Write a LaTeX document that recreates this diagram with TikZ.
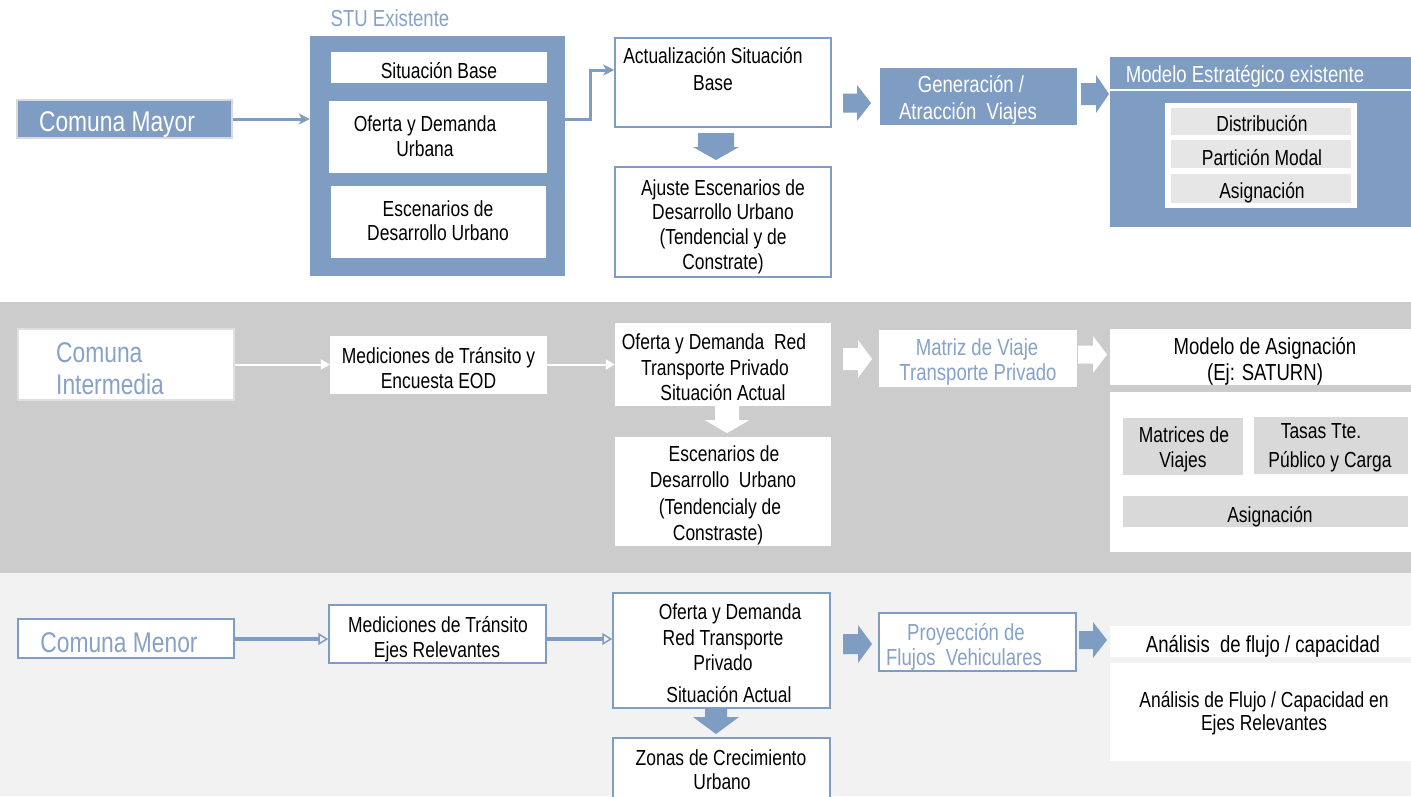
\documentclass[tikz,border=0pt]{standalone}
\usepackage{fontspec}
\setmainfont{Liberation Sans}[FakeStretch=0.8]
\usetikzlibrary{arrows.meta,fit,calc}
\definecolor{bl}{RGB}{127,156,194}
\definecolor{blt}{RGB}{135,162,200}
\definecolor{bgm}{RGB}{204,204,204}
\definecolor{bgb}{RGB}{242,242,242}
\definecolor{cellA}{RGB}{230,230,230}
\definecolor{cellB}{RGB}{217,217,217}
\definecolor{bord}{RGB}{217,217,217}
\definecolor{bordm}{RGB}{224,224,224}
\newcommand\fA{\fontsize{21.8}{25}\selectfont}
\newcommand\fB{\fontsize{23.2}{26}\selectfont}
\newcommand\fC{\fontsize{28.5}{31}\selectfont}
% box from corners
\newcommand\bx[6][]{\node[fit={(#3,#4) (#5,#6)}, inner sep=0pt, #1] (#2) {};}
% one text line, anchored at its baseline
\newcommand\tx[5][]{\node[tline, #1] (#2) at (#3,#4) {#5};}
% block arrows
\newcommand\arR[7]{\fill[#1] (#2,{#5-#6}) -- (#3,{#5-#6}) -- (#3,{#5-#7}) -- (#4,#5) -- (#3,{#5+#7}) -- (#3,{#5+#6}) -- (#2,{#5+#6}) -- cycle;}
\newcommand\arD[7]{\fill[#1] ({#5-#6},#2) -- ({#5-#6},#3) -- ({#5-#7},#3) -- (#5,#4) -- ({#5+#7},#3) -- ({#5+#6},#3) -- ({#5+#6},#2) -- cycle;}
\tikzset{
  tline/.style={anchor=base, inner sep=0pt, font=\fA, text=black},
  wbox/.style={fill=white},
  bbox/.style={fill=white, draw=bl, line width=1.5pt},
  topcon/.style={draw=bl, line width=3pt, -{Stealth[length=11pt,width=11pt,inset=3pt]}},
  midcon/.style={draw=white, line width=2pt, -{Triangle[length=9pt,width=10pt]}},
  lowcon/.style={draw=bl, line width=4pt, -{Triangle[open,length=10pt,width=12pt,line width=1.5pt]}},
}
\begin{document}
\begin{tikzpicture}[x=1pt,y=-1pt]
\useasboundingbox (0,0) rectangle (1411,796);
\fill[white] (0,0) rectangle (1411,302);
\fill[bgm] (0,302) rectangle (1411,573);
\fill[bgb] (0,573) rectangle (1411,796);

% ---------------- top band ----------------
\bx[fill=bl, draw=bord, line width=2.5pt]{cm}{17}{100}{232}{138}
\tx[font=\fC, text=white]{cmT}{117}{131}{Comuna Mayor}

\tx[font=\fB, text=blt]{stuT}{390}{26}{STU Existente}
\bx[fill=bl]{stu}{310}{36}{565}{276}
\bx[wbox]{sb}{331}{52}{547}{83}
\tx{sbT}{439}{78}{Situación Base}
\bx[wbox]{od}{329}{101}{547}{173}
\tx{odT1}{425}{131.5}{Oferta y Demanda}
\tx{odT2}{425}{156.5}{Urbana}
\bx[wbox]{esc}{331}{186}{546}{258}
\tx{escT1}{438}{216}{Escenarios de}
\tx{escT2}{438}{240.5}{Desarrollo Urbano}

\bx[bbox]{act}{615}{38}{831}{127}
\tx{actT1}{713}{63.5}{Actualización Situación}
\tx{actT2}{713}{90}{Base}
\bx[bbox]{aj}{615}{167}{831}{277}
\tx{ajT1}{723}{195}{Ajuste Escenarios de}
\tx{ajT2}{723}{219.5}{Desarrollo Urbano}
\tx{ajT3}{723}{244}{(Tendencial y de}
\tx{ajT4}{723}{269}{Constrate)}

\bx[fill=bl]{gen}{880}{68}{1077}{125}
\tx[font=\fB, text=white]{genT1}{971}{92}{Generación /}
\tx[font=\fB, text=white]{genT2}{968}{119}{Atracción\ \ Viajes}

\bx[fill=bl]{me}{1110}{57}{1411}{227}
\draw[white, line width=2pt] ($(me.north west)+(0,33)$) -- ($(me.north east)+(0,33)$);
\tx[font=\fB, text=white]{meT}{1245}{82}{Modelo Estratégico existente}
\bx[wbox]{mi}{1165}{103}{1357}{208}
\bx[fill=cellA]{dis}{1171}{108}{1351}{135}
\bx[fill=cellA]{par}{1171}{140}{1351}{168}
\bx[fill=cellA]{asi}{1171}{174}{1351}{203}
\tx{disT}{1262}{131}{Distribución}
\tx{parT}{1262}{165}{Partición Modal}
\tx{asiT}{1262}{198}{Asignación}

% top connectors
\draw[topcon] (cm.east) -- (cm.east -| stu.west);
\coordinate (e1) at (590,119);
\coordinate (e2) at (590,70);
\draw[topcon] (stu.east |- e1) -- (e1) -- (e2) -- (e2 -| act.west);
\arD{bl}{133}{147}{160}{716}{18}{23}
\arR{bl}{843}{857}{871}{103}{9.5}{18}
\arR{bl}{1081}{1096}{1109}{94}{11}{19}

% ---------------- middle band ----------------
\bx[fill=white, draw=bordm, line width=2pt]{ci}{18}{329}{234}{400}
\tx[font=\fC, text=blt, anchor=base west]{ciT1}{56}{362}{Comuna}
\tx[font=\fC, text=blt, anchor=base west]{ciT2}{56}{394}{Intermedia}
\bx[wbox]{mt}{330}{336}{547}{394}
\tx{mtT1}{438.5}{363}{Mediciones de Tránsito y}
\tx{mtT2}{438.5}{388}{Encuesta EOD}
\bx[wbox]{odr}{615}{323}{831}{406}
\tx{odrT1}{714}{349}{Oferta y Demanda\ \ Red}
\tx{odrT2}{715}{375}{Transporte Privado}
\tx{odrT3}{723}{400}{Situación Actual}
\bx[wbox]{esm}{615}{437}{831}{546}
\tx{esmT1}{724}{461}{Escenarios de}
\tx{esmT2}{723}{487}{Desarrollo\ \ Urbano}
\tx{esmT3}{720}{514}{(Tendencialy de}
\tx{esmT4}{718}{540}{Constraste)}
\bx[wbox]{mv}{879}{330}{1077}{387}
\tx[font=\fB, text=blt]{mvT1}{977}{355}{Matriz de Viaje}
\tx[font=\fB, text=blt]{mvT2}{978}{380}{Transporte Privado}
\bx[wbox]{ma}{1110}{329}{1411}{385}
\tx[font=\fB]{maT1}{1265}{354}{Modelo de Asignación}
\tx[font=\fB]{maT2}{1265}{380}{(Ej: SATURN)}
\bx[wbox]{mb}{1110}{392}{1411}{552}
\bx[fill=cellB]{mx}{1123}{418}{1243}{475}
\tx{mxT1}{1184}{442}{Matrices de}
\tx{mxT2}{1183}{467}{Viajes}
\bx[fill=cellB]{tt}{1254}{417}{1408}{474}
\tx{ttT1}{1321}{438}{Tasas Tte.}
\tx{ttT2}{1330}{467}{Público y Carga}
\bx[fill=cellB]{as2}{1123}{496}{1408}{527}
\tx{as2T}{1270}{522}{Asignación}

\draw[midcon] (ci.east) -- (ci.east -| mt.west);
\draw[midcon] (ci.east -| mt.east) -- (ci.east -| odr.west);
\arD{white}{406}{420}{433}{727}{12}{22.5}
\arR{white}{843}{858}{872}{359}{11}{19}
\arR{white}{1078}{1093}{1107}{354.5}{9}{18.5}

% ---------------- bottom band ----------------
\bx[bbox]{cmn}{18}{619}{234}{658}
\tx[font=\fC, text=blt]{cmnT}{119}{652}{Comuna Menor}
\bx[bbox]{mt2}{329}{605}{546}{663}
\tx{mt2T1}{438}{632}{Mediciones de Tránsito}
\tx{mt2T2}{437}{657}{Ejes Relevantes}
\bx[bbox]{od3}{613}{593}{830}{708}
\tx{od3T1}{730}{619}{Oferta y Demanda}
\tx{od3T2}{723}{645}{Red Transporte}
\tx{od3T3}{723}{670}{Privado}
\tx{od3T4}{729}{702}{Situación Actual}
\bx[bbox]{zc}{613}{738}{830}{800}
\tx{zcT1}{721}{765}{Zonas de Crecimiento}
\tx{zcT2}{722}{789}{Urbano}
\bx[bbox]{pf}{879}{613}{1076}{671}
\tx[font=\fB, text=blt]{pfT1}{966}{640}{Proyección de}
\tx[font=\fB, text=blt]{pfT2}{964}{665}{Flujos\ \ Vehiculares}
\bx[wbox]{af}{1110}{626}{1411}{657}
\tx[font=\fB]{afT}{1263}{652}{Análisis\ \ de flujo / capacidad}
\bx[wbox]{afc}{1110}{663}{1411}{761}
\tx{afcT1}{1264}{707}{Análisis de Flujo / Capacidad en}
\tx{afcT2}{1264}{730}{Ejes Relevantes}

\coordinate (lowy) at (0,639);
\draw[lowcon] (cmn.east |- lowy) -- (lowy -| mt2.west);
\draw[lowcon] (mt2.east |- lowy) -- (lowy -| od3.west);
\arD{bl}{708}{717}{734}{716}{11}{23}
\arR{bl}{843}{858}{872}{644}{10}{19}
\arR{bl}{1079}{1093}{1107}{640}{9}{18}
\end{tikzpicture}
\end{document}
